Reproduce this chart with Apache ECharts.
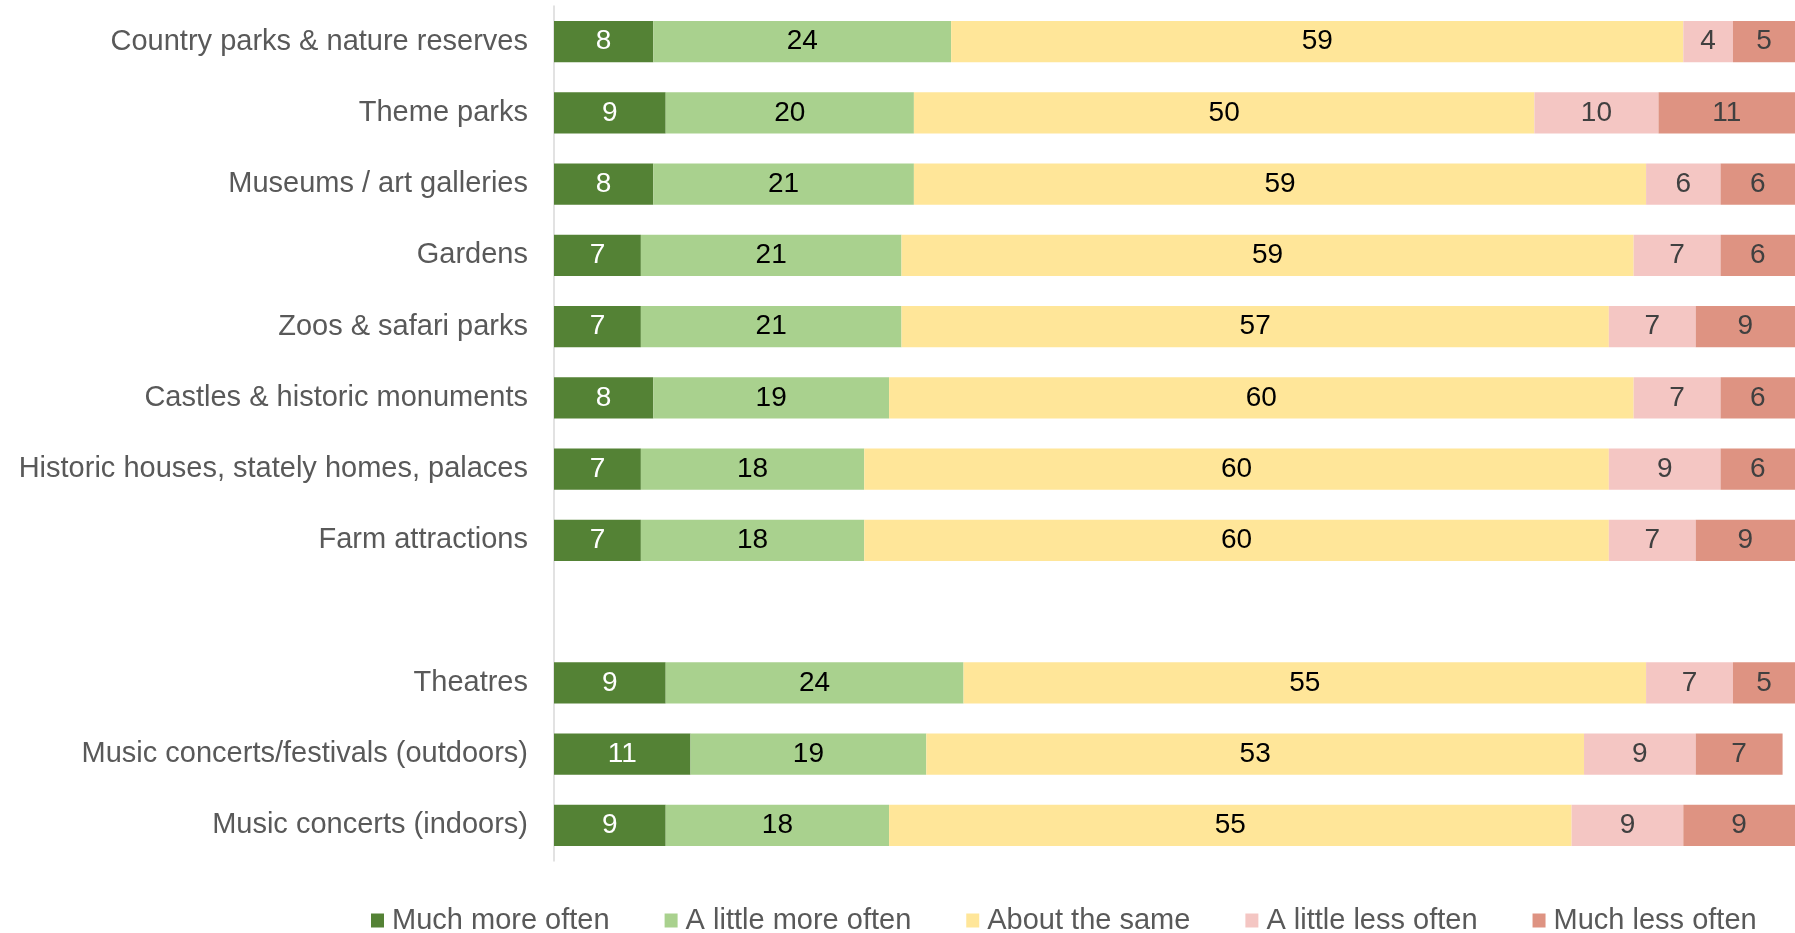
<!DOCTYPE html>
<html>
<head>
<meta charset="utf-8">
<style>
  html, body { margin: 0; padding: 0; background: #ffffff; }
  #chart { width: 1795px; height: 933px; }
</style>
<script src="https://cdn.jsdelivr.net/npm/echarts@6/dist/echarts.min.js"></script>
</head>
<body>
<div id="chart"></div>
<script>
// Attraction types (blank entry separates the two groups)
const categories = [
  'Country parks & nature reserves',
  'Theme parks',
  'Museums / art galleries',
  'Gardens',
  'Zoos & safari parks',
  'Castles & historic monuments',
  'Historic houses, stately homes, palaces',
  'Farm attractions',
  '',
  'Theatres',
  'Music concerts/festivals (outdoors)',
  'Music concerts (indoors)'
];

const seriesNames = [
  'Much more often',
  'A little more often',
  'About the same',
  'A little less often',
  'Much less often'
];

// Percentages per response, in category order ('-' = blank row)
const muchMore   = [8, 9, 8, 7, 7, 8, 7, 7, '-', 9, 11, 9];
const littleMore = [24, 20, 21, 21, 21, 19, 18, 18, '-', 24, 19, 18];
const aboutSame  = [59, 50, 59, 59, 57, 60, 60, 60, '-', 55, 53, 55];
const littleLess = [4, 10, 6, 7, 7, 7, 9, 7, '-', 7, 9, 9];
const muchLess   = [5, 11, 6, 6, 9, 6, 6, 9, '-', 5, 7, 9];

const values = [muchMore, littleMore, aboutSame, littleLess, muchLess];
const colors = ['#548235', '#A9D18E', '#FFE699', '#F4C6C3', '#DE9382'];
const labelColors = ['#ffffff', '#000000', '#000000', '#404040', '#404040'];

const FONT = '"Liberation Sans", Arial, sans-serif';

const chart = echarts.init(document.getElementById('chart'), null, { renderer: 'canvas' });

chart.setOption({
  animation: false,
  backgroundColor: '#ffffff',
  grid: { left: 554, right: 0, top: 6, bottom: 72, containLabel: false },
  xAxis: {
    type: 'value',
    min: 0,
    max: 100,
    show: false
  },
  yAxis: {
    type: 'category',
    data: categories,
    inverse: true,
    axisLine: { show: true, lineStyle: { color: '#D9D9D9', width: 1.5 } },
    axisTick: { show: false },
    axisLabel: {
      color: '#595959',
      fontFamily: FONT,
      fontSize: 29,
      margin: 26
    }
  },
  legend: {
    data: seriesNames,
    left: 366,
    top: 901,
    itemWidth: 13,
    itemHeight: 14,
    itemGap: 55,
    icon: 'rect',
    textStyle: {
      color: '#595959',
      fontFamily: FONT,
      fontSize: 29,
      padding: [0, 0, 0, 3]
    }
  },
  series: seriesNames.map((name, i) => ({
    name: name,
    type: 'bar',
    stack: 'total',
    data: values[i],
    barCategoryGap: '42%',
    itemStyle: { color: colors[i] },
    label: {
      show: true,
      position: 'inside',
      color: labelColors[i],
      fontFamily: FONT,
      fontSize: 28
    },
    emphasis: { disabled: true }
  }))
});
</script>
</body>
</html>
